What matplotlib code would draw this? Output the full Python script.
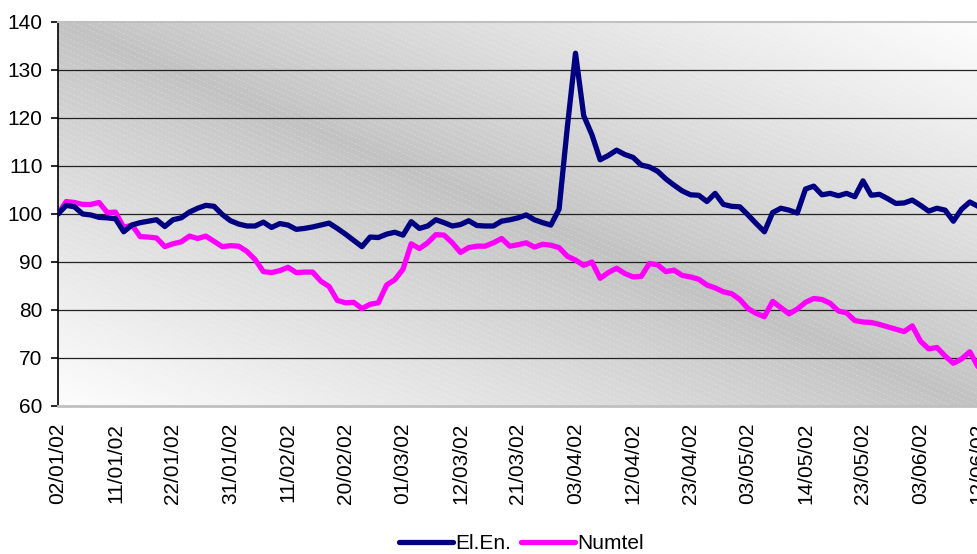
import numpy as np
import matplotlib
matplotlib.use("Agg")
import matplotlib.pyplot as plt
from matplotlib.collections import LineCollection

plt.rcParams['font.family'] = ['Liberation Sans', 'DejaVu Sans']

# daily index values (base 100 on 02/01/02), one per trading day
el_en = [100.0, 101.8, 101.5, 100.0, 99.8, 99.3, 99.2, 99.0, 96.3, 97.7,
         98.2, 98.5, 98.8, 97.4, 98.8, 99.2, 100.4, 101.2, 101.8, 101.6,
         99.9, 98.6, 97.9, 97.5, 97.5, 98.3, 97.2, 98.0, 97.7, 96.8,
         97.0, 97.3, 97.7, 98.1, 97.0, 95.8, 94.5, 93.2, 95.2, 95.1,
         95.8, 96.2, 95.6, 98.4, 97.0, 97.5, 98.8, 98.2, 97.5, 97.8,
         98.6, 97.6, 97.5, 97.5, 98.5, 98.8, 99.2, 99.8, 98.8, 98.2,
         97.7, 101.0, 118.0, 133.5, 120.5, 116.5, 111.3, 112.2, 113.3, 112.4,
         111.8, 110.2, 109.8, 108.9, 107.3, 106.0, 104.8, 104.0, 103.9, 102.6,
         104.3, 102.0, 101.6, 101.5, 99.8, 98.0, 96.3, 100.3, 101.2, 100.8,
         100.2, 105.2, 105.8, 104.0, 104.3, 103.8, 104.3, 103.6, 106.9, 103.9,
         104.1, 103.2, 102.2, 102.3, 102.9, 101.8, 100.6, 101.2, 100.8, 98.5,
         101.0, 102.5, 101.6]

numtel = [100.0, 102.6, 102.4, 102.0, 102.0, 102.4, 100.3, 100.4, 97.2, 97.7,
          95.3, 95.2, 95.0, 93.2, 93.8, 94.2, 95.4, 94.9, 95.4, 94.3,
          93.2, 93.4, 93.3, 92.2, 90.5, 88.0, 87.8, 88.2, 88.9, 87.8,
          87.9, 87.9, 86.0, 84.9, 82.0, 81.5, 81.6, 80.3, 81.2, 81.5,
          85.2, 86.3, 88.5, 93.8, 92.8, 94.0, 95.7, 95.6, 94.0, 92.0,
          93.0, 93.3, 93.3, 94.0, 94.9, 93.3, 93.6, 94.0, 93.1, 93.7,
          93.5, 93.0, 91.2, 90.4, 89.3, 90.0, 86.6, 87.8, 88.7, 87.6,
          86.9, 87.0, 89.7, 89.4, 88.0, 88.3, 87.2, 86.9, 86.4, 85.2,
          84.6, 83.8, 83.4, 82.2, 80.3, 79.3, 78.6, 81.8, 80.5, 79.2,
          80.2, 81.6, 82.4, 82.2, 81.4, 79.8, 79.4, 77.8, 77.5, 77.4,
          77.0, 76.5, 76.0, 75.5, 76.7, 73.5, 71.9, 72.2, 70.4, 68.9,
          69.8, 71.3, 68.2]

tick_labels = ['02/01/02', '11/01/02', '22/01/02', '31/01/02', '11/02/02',
               '20/02/02', '01/03/02', '12/03/02', '21/03/02', '03/04/02',
               '12/04/02', '23/04/02', '03/05/02', '14/05/02', '23/05/02',
               '03/06/02', '12/06/02']
tick_step = 7
y_ticks = [60, 70, 80, 90, 100, 110, 120, 130, 140]

days = np.arange(len(el_en))

fig = plt.figure(figsize=(9.78, 5.54), dpi=100)
ax = fig.add_axes([58/978, 1 - 406/554, 920/978, 384/554])

# diagonal grey gradient: dark along top-left -> bottom-right, light at the other corners
u, w = np.meshgrid(np.linspace(0, 1, 400), np.linspace(0, 1, 200))
d = np.abs(u - w)
grad = 0.76 + 0.23 * d ** 0.9
ax.imshow(grad, extent=(0, 1, 0, 1), transform=ax.transAxes, cmap='gray',
          vmin=0, vmax=1, aspect='auto', interpolation='bilinear', zorder=0)

# faint light stripes like the Excel fill pattern
k = 0.45 * 920 / 384
segs = []
for c in np.arange(0, 1 + k + 0.02, 6 / 384):
    segs.append([(0, c), (1, c - k)])
stripes = LineCollection(segs, colors='white', linewidths=0.6, alpha=0.25,
                         linestyles=(0, (3, 2)), transform=ax.transAxes, zorder=0.5)
ax.add_collection(stripes)

for yv in y_ticks[1:-1]:
    ax.axhline(yv, color='#222222', lw=0.9, zorder=1)

ax.plot(days, el_en, color='#000080', lw=3.8, solid_joinstyle='round',
        solid_capstyle='round', label='El.En.', zorder=3)
ax.plot(days, numtel, color='#ff00ff', lw=3.8, solid_joinstyle='round',
        solid_capstyle='round', label='Numtel', zorder=2)

ax.set_xlim(0, 112)
ax.set_ylim(60, 140)
ax.set_yticks(y_ticks)
ax.set_xticks(np.arange(len(tick_labels)) * tick_step)
ax.set_xticklabels(tick_labels, rotation=90, fontsize=15)
ax.tick_params(axis='x', length=0, pad=12)
ax.tick_params(axis='y', length=5, width=1.2, pad=6, labelsize=15, direction='out')

ax.spines['right'].set_visible(False)
ax.spines['left'].set_color('black')
ax.spines['left'].set_linewidth(1.2)
ax.spines['top'].set_color('#c0c0c0')
ax.spines['top'].set_linewidth(1.5)
ax.spines['bottom'].set_color('#c0c0c0')
ax.spines['bottom'].set_linewidth(2)

fig.legend(loc='center', bbox_to_anchor=(0.533, 0.019), ncol=2, frameon=False,
           fontsize=15, handlelength=2.6, handletextpad=0.1, columnspacing=0.5)

fig.savefig('out.png', dpi=100)
plt.close(fig)
